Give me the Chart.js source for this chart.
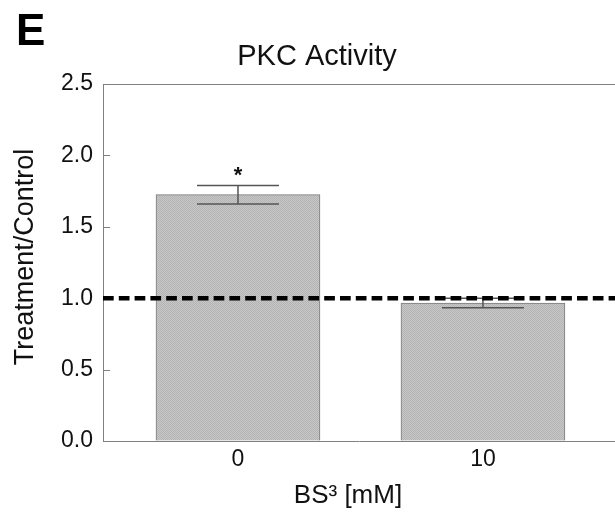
<!DOCTYPE html>
<html>
<head>
<meta charset="utf-8">
<script src="https://cdn.jsdelivr.net/npm/chart.js@4"></script>
<style>
html, body { margin: 0; padding: 0; background: #fff; }
#wrap { width: 615px; height: 517px; position: relative; }
</style>
</head>
<body>
<div id="wrap"><canvas id="myChart"></canvas></div>
<script>
let categories = ['0', '10']
let means = [1.725, 0.966]
let sems = [0.065, 0.033]
let stars = ['*', '']
let yTicks = [0, 0.5, 1.0, 1.5, 2.0, 2.5]
let controlLevel = 1.0

let font = '"Liberation Sans", Arial, sans-serif'

// dotted grey fill like the scanned bars
let pat = document.createElement('canvas')
pat.width = 2
pat.height = 2
let pctx = pat.getContext('2d')
pctx.fillStyle = '#c8c8c8'
pctx.fillRect(0, 0, 2, 2)
pctx.fillStyle = '#b3b3b3'
pctx.fillRect(0, 0, 1, 1)
pctx.fillRect(1, 1, 1, 1)
let barFill = pctx.createPattern(pat, 'repeat')

let extras = {
    id: 'extras',
    afterDatasetsDraw(chart) {
        let c = chart.ctx
        let x = chart.scales.x
        let y = chart.scales.y
        let area = chart.chartArea
        c.save()

        // frame top + inward ticks
        c.strokeStyle = '#808080'
        c.lineWidth = 1
        c.beginPath()
        c.moveTo(area.left, area.top + 0.5)
        c.lineTo(area.right, area.top + 0.5)
        yTicks.slice(1, -1).forEach(v => {
            let py = Math.round(y.getPixelForValue(v)) + 0.5
            c.moveTo(area.left, py)
            c.lineTo(area.left + 7, py)
        })
        c.stroke()

        // error bars
        c.strokeStyle = '#555'
        c.lineWidth = 1.5
        means.forEach((m, i) => {
            let px = x.getPixelForValue(i)
            let top = y.getPixelForValue(m + sems[i])
            let bot = y.getPixelForValue(m - sems[i])
            c.beginPath()
            c.moveTo(px, top)
            c.lineTo(px, bot)
            c.moveTo(px - 41, top)
            c.lineTo(px + 41, top)
            c.moveTo(px - 41, bot)
            c.lineTo(px + 41, bot)
            c.stroke()
            if (stars[i]) {
                c.fillStyle = '#111'
                c.font = 'bold 22px ' + font
                c.textAlign = 'center'
                c.textBaseline = 'alphabetic'
                c.fillText(stars[i], px, top - 3)
            }
        })

        // control level
        let ly = y.getPixelForValue(controlLevel)
        c.strokeStyle = '#000'
        c.lineWidth = 4.5
        c.setLineDash([10.7, 5.1])
        c.beginPath()
        c.moveTo(area.left, ly)
        c.lineTo(area.right, ly)
        c.stroke()
        c.restore()
    },
    afterDraw(chart) {
        let c = chart.ctx
        c.save()
        c.fillStyle = '#000'
        c.textBaseline = 'alphabetic'

        c.font = 'bold 44px ' + font
        c.textAlign = 'left'
        c.fillText('E', 16, 45)

        c.fillStyle = '#111'
        c.font = '29px ' + font
        c.textAlign = 'center'
        c.fillText('PKC Activity', 317, 65)

        c.font = '26px ' + font
        c.fillText('BS\u00B3 [mM]', 348, 503)

        c.translate(33, 257)
        c.rotate(-Math.PI / 2)
        c.font = '27px ' + font
        c.fillText('Treatment/Control', 0, 0)
        c.restore()
    }
}

let ctx = document.querySelector('#myChart')

let graphData = {
    type: 'bar',
    data: {
        datasets: [{
            data: means.map((m, i) => ({ x: i, y: m })),
            backgroundColor: barFill,
            borderColor: '#7a7a7a',
            borderWidth: 1,
            barThickness: 164
        }]
    },
    options: {
        responsive: true,
        maintainAspectRatio: false,
        animation: false,
        layout: { padding: { top: 84, right: 0, left: 0, bottom: 0 } },
        plugins: {
            legend: { display: false },
            tooltip: { enabled: false }
        },
        scales: {
            x: {
                type: 'linear',
                offset: false,
                min: -0.551,
                max: 1.539,
                afterBuildTicks: s => { s.ticks = categories.map((c, i) => ({ value: i })) },
                afterFit: s => { s.height = 76 },
                grid: { offset: false, drawOnChartArea: false, drawTicks: false },
                border: { display: true, color: '#808080', width: 1 },
                ticks: {
                    autoSkip: false,
                    maxRotation: 0,
                    padding: 5,
                    color: '#111',
                    font: { family: font, size: 23 },
                    callback: v => categories[v]
                }
            },
            y: {
                min: 0,
                max: 2.5,
                afterBuildTicks: s => { s.ticks = yTicks.map(v => ({ value: v })) },
                afterFit: s => { s.width = 103 },
                grid: { drawOnChartArea: false, drawTicks: false },
                border: { display: true, color: '#808080', width: 1 },
                ticks: {
                    padding: 10,
                    color: '#111',
                    font: { family: font, size: 23 },
                    callback: v => v.toFixed(1)
                }
            }
        }
    },
    plugins: [extras]
}

let myChart = new Chart(ctx, graphData)
</script>
</body>
</html>
